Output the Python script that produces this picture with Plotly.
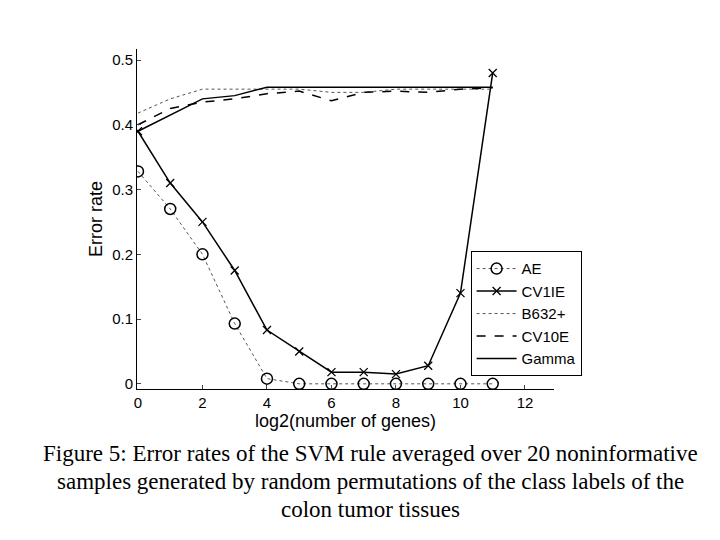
import plotly.graph_objects as go

x = list(range(12))
ae = [0.328, 0.27, 0.2, 0.093, 0.008, 0, 0, 0, 0, 0, 0, 0]
cv1ie = [0.39, 0.31, 0.25, 0.175, 0.083, 0.05, 0.018, 0.018, 0.015, 0.028, 0.14, 0.48]
b632 = [0.418, 0.44, 0.455, 0.455, 0.455, 0.455, 0.45, 0.45, 0.455, 0.455, 0.455, 0.455]
cv10e = [0.40, 0.425, 0.435, 0.44, 0.448, 0.452, 0.437, 0.45, 0.452, 0.45, 0.455, 0.457]
gamma = [0.39, 0.415, 0.44, 0.445, 0.458, 0.458, 0.458, 0.458, 0.458, 0.458, 0.458, 0.458]

fig = go.Figure()
fig.add_trace(go.Scatter(x=x, y=ae, name="AE", mode="lines+markers",
                         line=dict(color="#555", width=1, dash="dot"),
                         marker=dict(symbol="circle-open", size=11, color="black", line=dict(width=1.5))))
fig.add_trace(go.Scatter(x=x, y=cv1ie, name="CV1IE", mode="lines+markers",
                         line=dict(color="black", width=1.5),
                         marker=dict(symbol="x-thin-open", size=8, color="black", line=dict(width=1.3))))
fig.add_trace(go.Scatter(x=x, y=b632, name="B632+", mode="lines",
                         line=dict(color="#555", width=1, dash="dot")))
fig.add_trace(go.Scatter(x=x, y=cv10e, name="CV10E", mode="lines",
                         line=dict(color="black", width=1.5, dash="dash")))
fig.add_trace(go.Scatter(x=x, y=gamma, name="Gamma", mode="lines",
                         line=dict(color="black", width=1.5)))

caption = ["Figure 5: Error rates of the SVM rule averaged over 20 noninformative",
           "samples generated by random permutations of the class labels of the",
           "colon tumor tissues"]
for i, line in enumerate(caption):
    fig.add_annotation(text=line, xref="paper", yref="paper", x=0.56, y=-0.19 - i * 0.082,
                       xanchor="center", yanchor="middle", showarrow=False,
                       font=dict(family="Liberation Serif", size=23, color="black"))

fig.update_layout(
    width=720, height=540, paper_bgcolor="white", plot_bgcolor="white",
    margin=dict(l=129, r=174, t=41, b=159),
    font=dict(family="Liberation Sans", size=15, color="black"),
    legend=dict(x=0.8, y=0.405, xanchor="left", yanchor="top", bordercolor="black", borderwidth=1,
                bgcolor="white", font=dict(size=15), tracegroupgap=0, itemwidth=40),
    xaxis=dict(range=[-0.03, 12.9], tickvals=[0, 2, 4, 6, 8, 10, 12], showgrid=False, zeroline=False,
               showline=True, linecolor="black", ticks="inside", ticklen=4, automargin=False,
               title=dict(text="log2(number of genes)", standoff=2)),
    yaxis=dict(range=[-0.008, 0.517], tickvals=[0, 0.1, 0.2, 0.3, 0.4, 0.5], showgrid=False, zeroline=False,
               showline=True, linecolor="black", ticks="inside", ticklen=4, automargin=False,
               title=dict(text="Error rate", standoff=4)),
)
fig.write_html("out.html")
